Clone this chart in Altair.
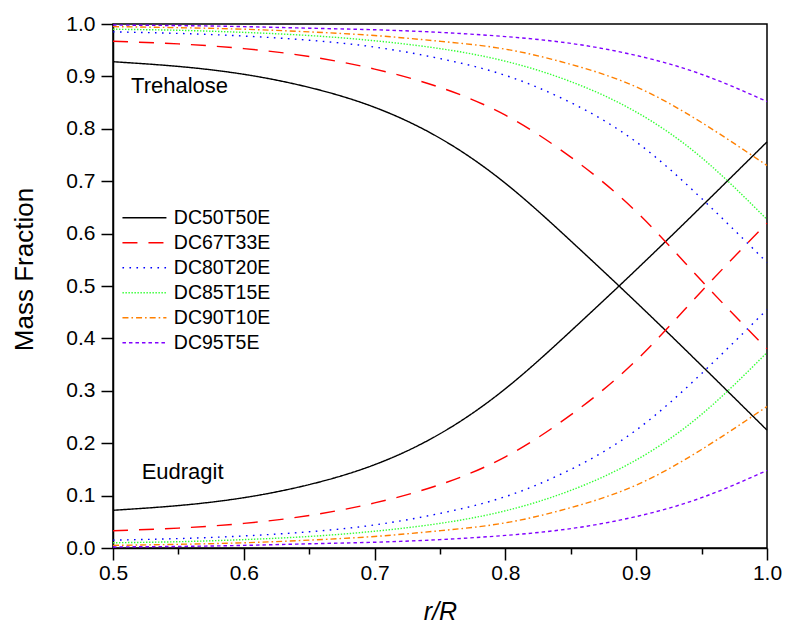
import altair as alt
import pandas as pd

# ---------------- data ----------------
r_values = [0.50, 0.55, 0.60, 0.65, 0.70, 0.75, 0.80, 0.85, 0.90, 0.95, 1.00]

series_names = ["DC50T50E", "DC67T33E", "DC80T20E", "DC85T15E", "DC90T10E", "DC95T5E"]

treh_dc50 = [0.928, 0.919, 0.904, 0.879, 0.841, 0.782, 0.696, 0.586, 0.469, 0.348, 0.225]
eud_dc50 = [0.072, 0.081, 0.096, 0.121, 0.159, 0.218, 0.304, 0.414, 0.531, 0.652, 0.775]

treh_dc67 = [0.967, 0.962, 0.953, 0.938, 0.914, 0.879, 0.826, 0.746, 0.642, 0.510, 0.380]
eud_dc67 = [0.033, 0.038, 0.047, 0.062, 0.086, 0.121, 0.174, 0.254, 0.358, 0.490, 0.620]

treh_dc80 = [0.985, 0.982, 0.977, 0.969, 0.956, 0.934, 0.902, 0.850, 0.775, 0.667, 0.545]
eud_dc80 = [0.015, 0.018, 0.023, 0.031, 0.044, 0.066, 0.098, 0.150, 0.225, 0.333, 0.455]

treh_dc85 = [0.990, 0.988, 0.984, 0.978, 0.968, 0.953, 0.929, 0.890, 0.832, 0.745, 0.627]
eud_dc85 = [0.010, 0.012, 0.016, 0.022, 0.032, 0.047, 0.071, 0.110, 0.168, 0.255, 0.373]

treh_dc90 = [0.995, 0.993, 0.990, 0.985, 0.978, 0.967, 0.952, 0.923, 0.880, 0.812, 0.730]
eud_dc90 = [0.005, 0.007, 0.010, 0.015, 0.022, 0.033, 0.048, 0.077, 0.120, 0.188, 0.270]

treh_dc95 = [0.998, 0.997, 0.995, 0.992, 0.989, 0.984, 0.976, 0.963, 0.940, 0.904, 0.852]
eud_dc95 = [0.002, 0.003, 0.005, 0.008, 0.011, 0.016, 0.024, 0.037, 0.060, 0.096, 0.148]

trehalose = [treh_dc50, treh_dc67, treh_dc80, treh_dc85, treh_dc90, treh_dc95]
eudragit = [eud_dc50, eud_dc67, eud_dc80, eud_dc85, eud_dc90, eud_dc95]

series_colors = ["#000000", "#ff0000", "#0000ff", "#33ff33", "#ff8000", "#8000ff"]
series_dashes = [[1, 0], [15, 11], [1.6, 5.4], [1.4, 1.6], [6, 3, 1.6, 3], [3.5, 3]]

x_ticks = [0.5, 0.55, 0.6, 0.65, 0.7, 0.75, 0.8, 0.85, 0.9, 0.95, 1.0]
y_ticks = [0.0, 0.05, 0.1, 0.15, 0.2, 0.25, 0.3, 0.35, 0.4, 0.45, 0.5,
           0.55, 0.6, 0.65, 0.7, 0.75, 0.8, 0.85, 0.9, 0.95, 1.0]

annot_text = ["Trehalose", "Eudragit"]
annot_r = [0.5138, 0.5219]
annot_y = [0.882, 0.145]

# ---------------- tables ----------------
rows = []
for name, tv, ev in zip(series_names, trehalose, eudragit):
    for r, t in zip(r_values, tv):
        rows.append({"r": r, "frac": t, "series": name, "component": "Trehalose"})
    for r, e in zip(r_values, ev):
        rows.append({"r": r, "frac": e, "series": name, "component": "Eudragit"})
df = pd.DataFrame(rows)
ann = pd.DataFrame({"r": annot_r, "frac": annot_y, "label": annot_text})

FONT = "Liberation Sans"
xscale = alt.Scale(domain=[0.5, 1.0], nice=False, zero=False)
yscale = alt.Scale(domain=[0.0, 1.0], nice=False)

LABEL_EXPR = "round(datum.value * 100) % 10 == 0 ? format(datum.value, '.1f') : ''"
tick_size = {"condition": {"test": "round(datum.value * 100) % 10 != 0", "value": 6}, "value": 12}

# horizontal line legend symbol (wider than tall so rows stay compact)
legend = alt.Legend(
    title=None, orient="none", legendX=21.7, legendY=184,
    symbolType="M-3,0H3", symbolSize=215, symbolStrokeWidth=1.5,
    labelFont=FONT, labelFontSize=19.5, labelColor="black", labelOffset=19.6,
    rowPadding=4, padding=0,
)

lines = alt.Chart(df).mark_line(strokeWidth=1.4, interpolate="natural", strokeCap="butt").encode(
    x=alt.X("r:Q", scale=xscale, axis=alt.Axis(
        values=x_ticks, labelExpr=LABEL_EXPR, title="r/R", titleFontStyle="italic",
        tickSize=tick_size, labelPadding=2, labelFlush=False, labelOverlap=False,
        titleX=327, titleY=71, titleBaseline="alphabetic", titleFontSize=25,
        orient="bottom")),
    y=alt.Y("frac:Q", scale=yscale, axis=alt.Axis(
        values=y_ticks, labelExpr=LABEL_EXPR, title="Mass Fraction",
        tickSize=tick_size, labelPadding=6, labelFlush=False, labelOverlap=False,
        titleX=-89, titleY=245, titleBaseline="middle",
        titleAlign="center", titleAngle=270, orient="left")),
    color=alt.Color("series:N", scale=alt.Scale(domain=series_names, range=series_colors), legend=legend),
    strokeDash=alt.StrokeDash("series:N", scale=alt.Scale(domain=series_names, range=series_dashes), legend=legend),
    detail="component:N",
)

texts = alt.Chart(ann).mark_text(align="left", baseline="middle", font=FONT, fontSize=22, color="black").encode(
    x=alt.X("r:Q", scale=xscale),
    y=alt.Y("frac:Q", scale=yscale),
    text="label:N",
)

chart = alt.layer(lines, texts).properties(
    width=654, height=524,
    autosize=alt.AutoSizeParams(type="none"),
    padding={"left": 113, "top": 24, "right": 18, "bottom": 78},
).configure_view(
    stroke="black", strokeWidth=1.5
).configure_axis(
    domainColor="black", domainWidth=1.5, tickColor="black", tickWidth=1.5,
    labelColor="black", titleColor="black", labelFont=FONT, titleFont=FONT,
    labelFontSize=21, titleFontSize=26, titleFontWeight="normal", grid=False,
)

chart.save("out.html", embed_options={"renderer": "svg", "actions": False})
